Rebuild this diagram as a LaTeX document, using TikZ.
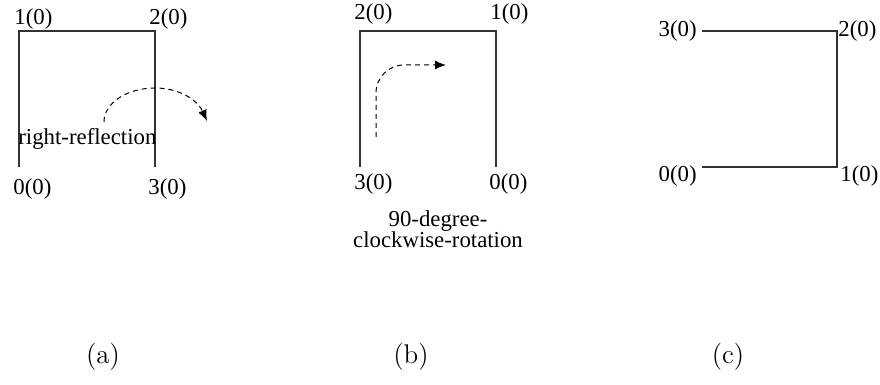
\documentclass[tikz,border=0pt]{standalone}
\usepackage{fontspec}
\newfontfamily\timesfont{Liberation Serif}
\usetikzlibrary{
    positioning,
    arrows.meta
}

\begin{document}
\begin{tikzpicture}[
                x=0.5pt, y=-0.5pt,
                every node/.style={inner sep=0pt},
                vlabel/.style={anchor=base west, font=\timesfont\fontsize{11.4}{10.5}\selectfont},
                edge/.style={line width=0.55pt, black!80},
                move/.style={-{Latex[length=5.5pt,width=4.5pt]}, line width=0.5pt, dash pattern=on 2.5pt off 2pt},
                caption/.style={font=\fontsize{13.5}{16}\selectfont}
            ]
                \useasboundingbox (0,0) rectangle (880,385);

                % (a)
                \coordinate (a1) at (19,31);
                \coordinate (a2) at (155,31);
                \coordinate (a3) at (155,167);
                \coordinate (a0) at (19,167);
                \draw[edge] (a0) -- (a1) -- (a2) -- (a3);

                \node[vlabel] (la1) at (14,25) {1(0)};
                \node[vlabel] (la2) at (149,25) {2(0)};
                \node[vlabel] (la0) at (13,194.5) {0(0)};
                \node[vlabel] (la3) at (148,194.5) {3(0)};
                \node[vlabel] (reflect) at (18,145) {right-reflection};

                \coordinate (ra) at (104,122);
                \coordinate (rtop) at (155,88);
                \coordinate (rb) at (207,121);
                \draw[move]
                    (ra) .. controls (104,103) and (127,88) .. (rtop)
                    .. controls (183,88) and (199,103) .. (rb);

                % (b)
                \coordinate (b2) at (360,31);
                \coordinate (b1) at (496,31);
                \coordinate (b0) at (496,167);
                \coordinate (b3) at (360,167);
                \draw[edge] (b3) -- (b2) -- (b1) -- (b0);

                \node[vlabel] (lb2) at (354,19.5) {2(0)};
                \node[vlabel] (lb1) at (490,19.5) {1(0)};
                \node[vlabel] (lb3) at (354,189.5) {3(0)};
                \node[vlabel] (lb0) at (489,189.5) {0(0)};
                \node[vlabel, anchor=north, align=center] (rotate) at (438,210.5) {90-degree-\\clockwise-rotation};

                \coordinate (rs) at (376,137);
                \coordinate (re) at (446,65);
                \draw[move, rounded corners=14pt]
                    (rs) |- (re);

                % (c)
                \coordinate (c3) at (702,31);
                \coordinate (c2) at (837,31);
                \coordinate (c1) at (837,167);
                \coordinate (c0) at (702,167);
                \draw[edge] (c3) -- (c2) -- (c1) -- (c0);

                \node[vlabel, anchor=east] (lc3) at (697,31) {3(0)};
                \node[vlabel, anchor=west] (lc2) at (838,31) {2(0)};
                \node[vlabel, anchor=base east] (lc0) at (697,182) {0(0)};
                \node[vlabel] (lc1) at (840,182) {1(0)};

                % captions
                \node[caption] (capa) at (103,357) {(a)};
                \node[caption] (capb) at (411,357) {(b)};
                \node[caption] (capc) at (728,357) {(c)};

            \end{tikzpicture}
\end{document}
